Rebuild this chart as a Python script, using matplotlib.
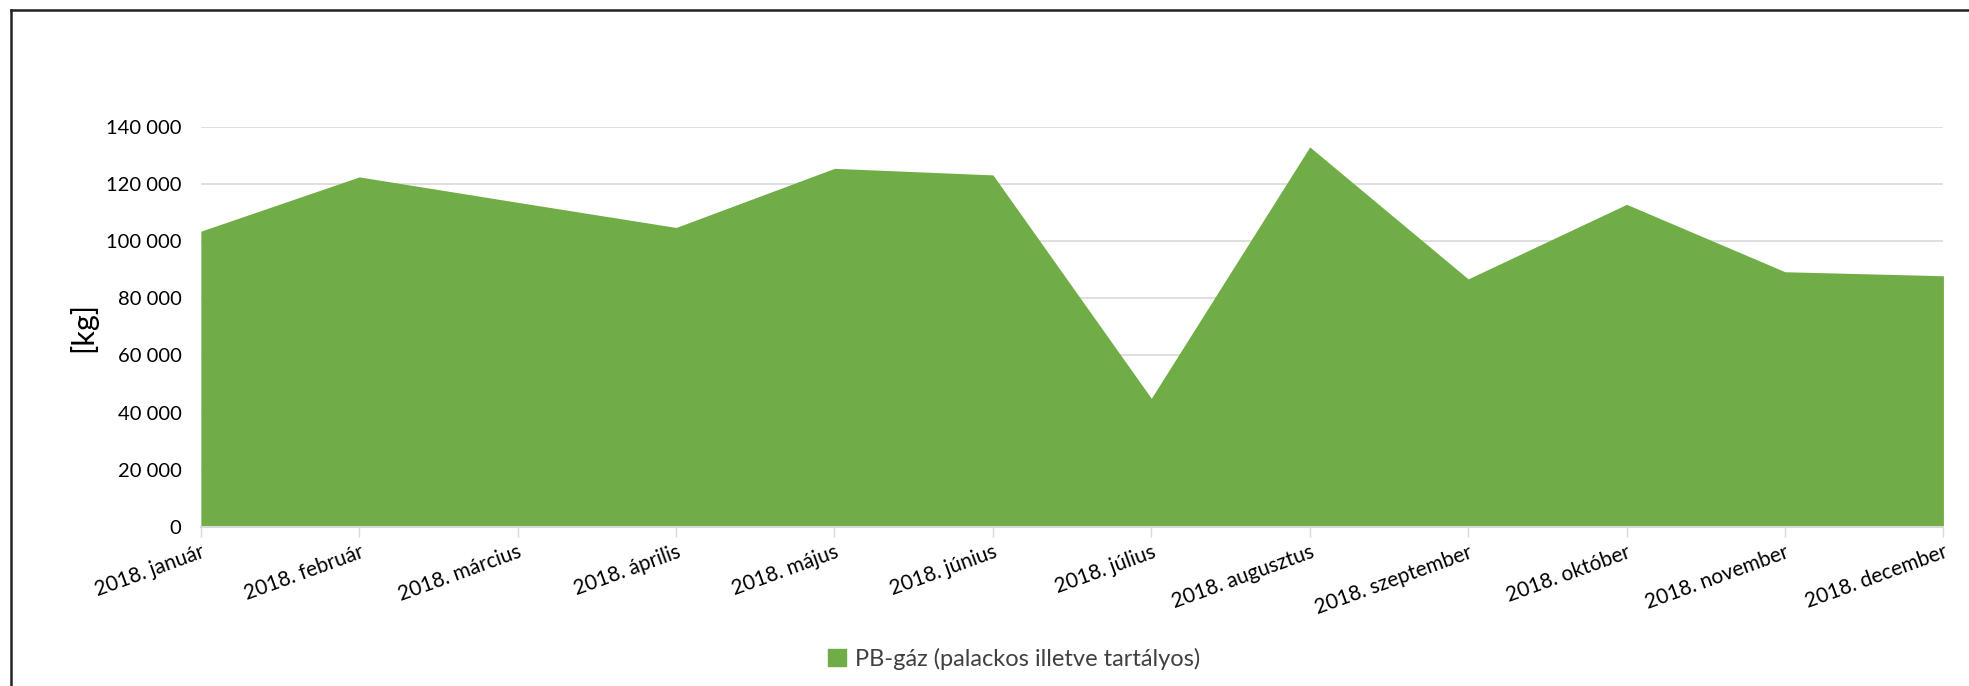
import numpy as np
import matplotlib
matplotlib.use("Agg")
import matplotlib.pyplot as plt
from matplotlib.patches import Patch
from matplotlib.ticker import FuncFormatter

plt.rcParams['font.family'] = ['Lato', 'DejaVu Sans']

honapok = ['2018. január', '2018. február', '2018. március', '2018. április',
           '2018. május', '2018. június', '2018. július', '2018. augusztus',
           '2018. szeptember', '2018. október', '2018. november', '2018. december']
pb_gaz = [103500, 122500, 113600, 104800, 125500, 123200,
          45000, 133000, 86800, 112900, 89300, 87900]
sorozat = 'PB-gáz (palackos illetve tartályos)'
zold = '#70AD47'

fig = plt.figure(figsize=(19.69, 6.86), dpi=100)
ax = fig.add_axes([0.102, 0.232, 0.885, 0.583])

x = np.arange(len(honapok))
ax.fill_between(x, 0, pb_gaz, color=zold, linewidth=0, zorder=2)

ax.set_xlim(0, len(honapok) - 1)
ax.set_ylim(0, 140000)
ax.set_yticks(np.arange(0, 140001, 20000))
ax.yaxis.set_major_formatter(FuncFormatter(lambda v, p: f'{int(v):,}'.replace(',', ' ')))
ax.grid(axis='y', color='#d9d9d9', linewidth=1.2, zorder=0)
ax.set_xticks(x)
ax.set_xticklabels(honapok, rotation=20, ha='right', rotation_mode='anchor')

for s in ['top', 'right', 'left']:
    ax.spines[s].set_visible(False)
ax.spines['bottom'].set_color('#d9d9d9')
ax.spines['bottom'].set_linewidth(1.5)
ax.tick_params(axis='y', length=0, labelsize=14.5, pad=14, colors='#000000')
ax.tick_params(axis='x', length=7, width=1, color='#d9d9d9', labelsize=15, pad=4)

ax.set_ylabel('[kg]', fontsize=22, labelpad=6)

fig.legend(handles=[Patch(color=zold, label=sorozat)], loc='center',
           bbox_to_anchor=(0.515, 0.04), frameon=False, fontsize=17,
           handlelength=0.75, handleheight=0.75, handletextpad=0.4,
           labelcolor='#404040')

# keret a bal és a felső oldalon
fig.add_artist(plt.Line2D([0.0055, 0.0055], [0, 0.986], color='#222222', linewidth=1.8,
                          transform=fig.transFigure))
fig.add_artist(plt.Line2D([0.0055, 1], [0.986, 0.986], color='#222222', linewidth=1.8,
                          transform=fig.transFigure))

fig.savefig('out.png', dpi=100)
